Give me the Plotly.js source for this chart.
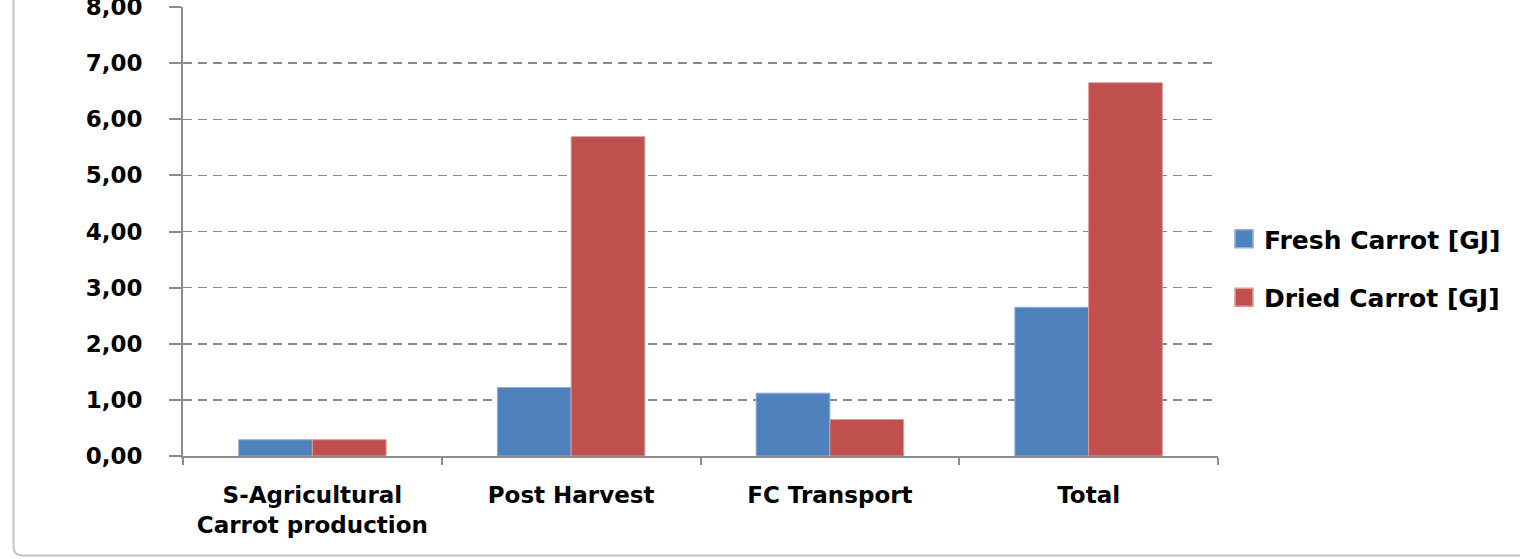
<!DOCTYPE html>
<html>
<head>
<meta charset="utf-8">
<script src="https://cdn.plot.ly/plotly-3.0.1.min.js"></script>
<style>
  html, body { margin: 0; padding: 0; background: #ffffff; }
  #chart { width: 1520px; height: 559px; }
</style>
</head>
<body>
<div id="chart"></div>
<script>
// ---- data ----
const categories = ['S-Agricultural<br>Carrot production', 'Post Harvest', 'FC Transport', 'Total'];
const freshCarrot = [0.29, 1.22, 1.12, 2.65];
const driedCarrot = [0.29, 5.69, 0.65, 6.65];
const seriesNames = ['Fresh Carrot [GJ]', 'Dried Carrot [GJ]'];
const yTickValues = [0, 1, 2, 3, 4, 5, 6, 7, 8];

// ---- styling ----
const FONT = 'DejaVu Sans, Verdana, sans-serif';
const AXIS_GRAY = '#8c8c8c';
const BLUE = '#4F81BD';
const RED = '#C0504D';

const traces = [
  {
    type: 'bar', name: seriesNames[0], x: categories, y: freshCarrot,
    marker: { color: BLUE, line: { color: '#8fb0d8', width: 1 } },
    legendgroup: 'a', hoverinfo: 'x+y+name'
  },
  {
    type: 'bar', name: seriesNames[1], x: categories, y: driedCarrot,
    marker: { color: RED, line: { color: '#e09a98', width: 1 } },
    legendgroup: 'b', hoverinfo: 'x+y+name'
  }
];

const pl = 183, pr = 1218, pt = 7, pb = 456; // plot area pixel edges
const pw = pr - pl, ph = pb - pt;
const px = v => (v - pl) / pw;
const py = v => (pb - v) / ph;

const frameX = px(13.5), frameY = py(555.5), rX = 9 / pw, rY = 9 / ph;

const layout = {
  width: 1520, height: 559,
  margin: { l: pl, r: 1520 - pr, t: pt, b: 559 - pb, pad: 0 },
  paper_bgcolor: '#ffffff', plot_bgcolor: '#ffffff',
  separators: ', ',
  font: { family: FONT, size: 23, color: '#000000', weight: 'bold' },
  barmode: 'group', bargap: 0.43, bargroupgap: 0,
  showlegend: true,
  legend: {
    x: px(1224), xanchor: 'left', y: py(268), yanchor: 'middle',
    font: { family: FONT, size: 25, color: '#000000', weight: 'bold' },
    traceorder: 'grouped', tracegroupgap: 23,
    bgcolor: 'rgba(0,0,0,0)', borderwidth: 0
  },
  xaxis: {
    type: 'category',
    showline: true, linecolor: AXIS_GRAY, linewidth: 2,
    ticks: 'outside', tickson: 'boundaries', ticklen: 7, tickwidth: 2, tickcolor: AXIS_GRAY,
    showgrid: false, zeroline: false,
    tickfont: { family: FONT, size: 23, color: '#000000', weight: 'bold' },
    ticklabelstandoff: 17,
    fixedrange: true
  },
  yaxis: {
    range: [0, 8], tickvals: yTickValues, tickformat: '.2f',
    showline: true, linecolor: AXIS_GRAY, linewidth: 2,
    ticks: 'outside', ticklen: 12, tickwidth: 2, tickcolor: AXIS_GRAY,
    showgrid: true, gridcolor: '#8a8a8a', gridwidth: 1.5, griddash: '9px,6px',
    zeroline: false,
    tickfont: { family: FONT, size: 23, color: '#000000', weight: 'bold' },
    ticklabelstandoff: 22, ticklabeloverflow: 'allow',
    fixedrange: true
  },
  shapes: [
    {
      type: 'path', xref: 'paper', yref: 'paper',
      path: `M ${frameX},${py(-5)} L ${frameX},${frameY + rY} Q ${frameX},${frameY} ${frameX + rX},${frameY} L ${px(1525)},${frameY}`,
      line: { color: '#c4c4c4', width: 2 }, layer: 'below'
    }
  ]
};

Plotly.newPlot('chart', traces, layout, { displayModeBar: false, staticPlot: true }).then(() => {
  // enlarge the legend swatches to match the reference's bigger squares
  document.querySelectorAll('#chart .legendpoints path').forEach(p => {
    p.setAttribute('transform', 'translate(20,0) scale(1.5)');
  });
});
</script>
</body>
</html>
